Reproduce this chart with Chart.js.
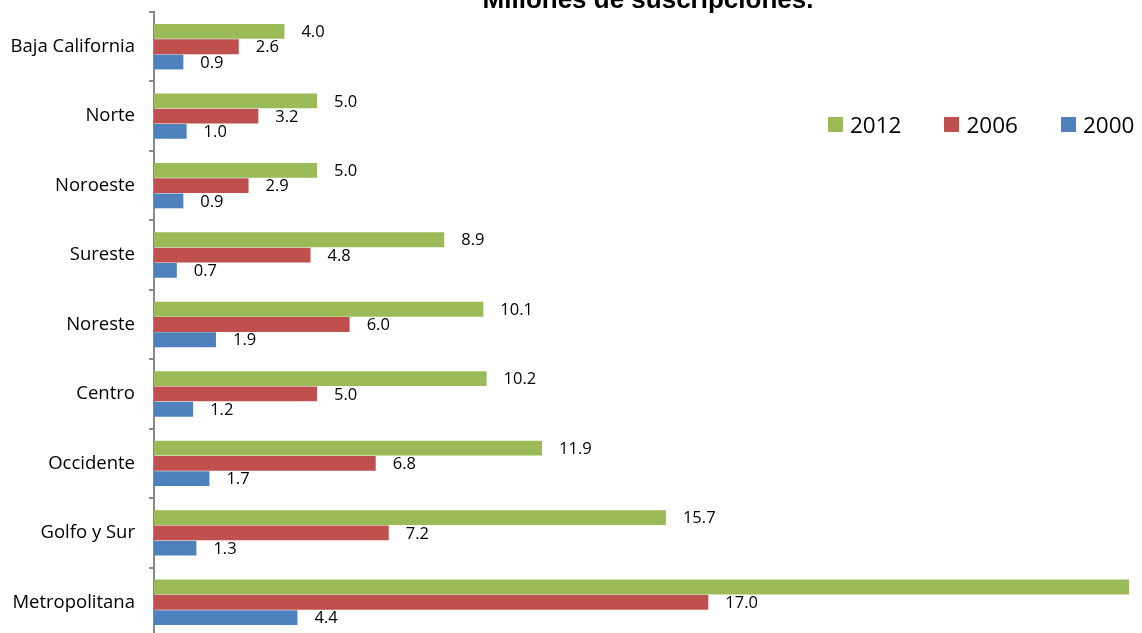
<!DOCTYPE html>
<html>
<head>
<meta charset="utf-8">
<script src="https://cdn.jsdelivr.net/npm/chart.js@4"></script>
<style>
  html, body { margin: 0; padding: 0; background: #fff; overflow: hidden; }
  #wrap { position: relative; width: 1142px; height: 633px; overflow: hidden; }
  #legend { position: absolute; top: 109px; left: 828px; display: flex; font-family: "Open Sans", sans-serif; font-size: 22.5px; color: #000; }
  #legend .item { display: flex; align-items: center; margin-right: 43px; }
  #legend .item:last-child { margin-right: 0; }
  #legend .box { width: 15px; height: 15px; margin-right: 7px; }
</style>
</head>
<body>
<div id="wrap">
  <canvas id="chart" width="1142" height="660"></canvas>
  <div id="legend"></div>
</div>
<script>
const regions = ['Baja California', 'Norte', 'Noroeste', 'Sureste', 'Noreste', 'Centro', 'Occidente', 'Golfo y Sur', 'Metropolitana'];
const years = ['2012', '2006', '2000'];
const values2012 = [4.0, 5.0, 5.0, 8.9, 10.1, 10.2, 11.9, 15.7, 29.9];
const values2006 = [2.6, 3.2, 2.9, 4.8, 6.0, 5.0, 6.8, 7.2, 17.0];
const values2000 = [0.9, 1.0, 0.9, 0.7, 1.9, 1.2, 1.7, 1.3, 4.4];
const colors = ['#9BBB59', '#C0504D', '#4F81BD'];
const titleText = 'Millones de suscripciones.';

const font = '"Open Sans", sans-serif';

// title sits mostly above the canvas, only its lower part shows
const titlePlugin = {
    id: 'clippedTitle',
    afterDraw: (chart) => {
        const { ctx, chartArea } = chart;
        ctx.save();
        ctx.font = 'bold 26px "Liberation Sans", Arial, sans-serif';
        ctx.fillStyle = '#000';
        ctx.textAlign = 'center';
        ctx.textBaseline = 'alphabetic';
        ctx.fillText(titleText, (chartArea.left + chartArea.right) / 2, 8);
        ctx.restore();
    }
};

// value labels to the right of each bar
const valueLabels = {
    id: 'valueLabels',
    afterDatasetsDraw: (chart) => {
        const { ctx } = chart;
        ctx.save();
        ctx.font = '16.5px ' + font;
        ctx.fillStyle = '#000';
        ctx.textAlign = 'left';
        ctx.textBaseline = 'middle';
        chart.data.datasets.forEach((ds, i) => {
            chart.getDatasetMeta(i).data.forEach((bar, j) => {
                ctx.fillText(ds.data[j].toFixed(1), bar.x + 17, bar.y + 1);
            });
        });
        ctx.restore();
    }
};

const chart = new Chart(document.getElementById('chart'), {
    type: 'bar',
    data: {
        labels: regions,
        datasets: [
            { label: years[0], data: values2012, backgroundColor: colors[0] },
            { label: years[1], data: values2006, backgroundColor: colors[1] },
            { label: years[2], data: values2000, backgroundColor: colors[2] }
        ]
    },
    options: {
        indexAxis: 'y',
        responsive: false,
        animation: false,
        events: [],
        categoryPercentage: 0.66,
        barPercentage: 0.97,
        layout: { padding: { top: 12, bottom: 23, left: 0, right: 0 } },
        scales: {
            x: {
                display: false,
                min: 0,
                max: 30.3
            },
            y: {
                afterFit: (scale) => {
                    scale.width = 154;
                    scale.paddingTop = 0;
                    scale.paddingBottom = 0;
                },
                border: { color: '#8a8a8a', width: 2 },
                grid: {
                    offset: true,
                    drawOnChartArea: false,
                    tickLength: 5,
                    color: '#8a8a8a',
                    lineWidth: 2
                },
                ticks: {
                    color: '#000',
                    padding: 14,
                    font: { family: font, size: 18.5 }
                }
            }
        },
        plugins: {
            legend: { display: false },
            tooltip: { enabled: false }
        }
    },
    plugins: [titlePlugin, valueLabels]
});

// html legend
const legendEl = document.getElementById('legend');
chart.data.datasets.forEach(ds => {
    const item = document.createElement('div');
    item.className = 'item';
    item.innerHTML = '<span class="box" style="background:' + ds.backgroundColor + '"></span>' + ds.label;
    legendEl.appendChild(item);
});
</script>
</body>
</html>
